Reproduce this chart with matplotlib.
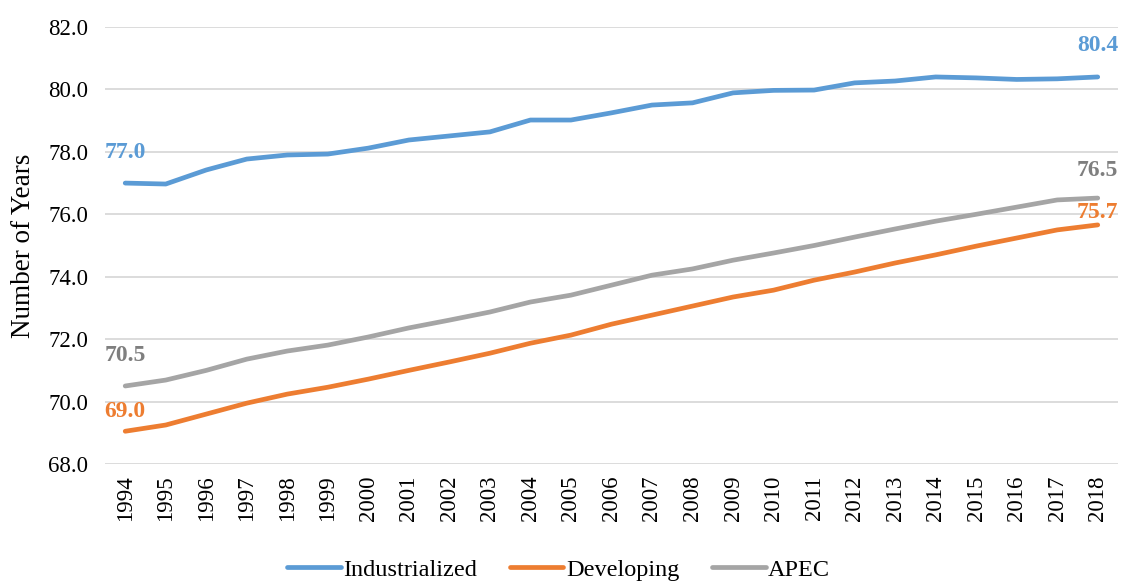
import matplotlib
matplotlib.use("Agg")
import matplotlib.pyplot as plt

plt.rcParams['font.family'] = ['Liberation Serif', 'DejaVu Serif']

years = [str(y) for y in range(1994, 2019)]

industrialized = [77.0, 76.97, 77.42, 77.77, 77.9, 77.93, 78.12, 78.38, 78.51, 78.64,
                  79.02, 79.02, 79.25, 79.5, 79.57, 79.89, 79.97, 79.98, 80.21, 80.27,
                  80.4, 80.37, 80.32, 80.34, 80.4]
developing = [69.05, 69.25, 69.6, 69.95, 70.24, 70.46, 70.72, 71.0, 71.27, 71.55,
              71.87, 72.13, 72.48, 72.77, 73.06, 73.35, 73.57, 73.89, 74.15, 74.44,
              74.7, 74.98, 75.24, 75.5, 75.66]
apec = [70.5, 70.69, 71.0, 71.36, 71.62, 71.81, 72.07, 72.36, 72.61, 72.87,
        73.19, 73.41, 73.73, 74.05, 74.25, 74.53, 74.76, 75.0, 75.27, 75.53,
        75.78, 76.0, 76.23, 76.46, 76.52]

series = [
    ("Industrialized", industrialized, "#5B9BD5", "#5B9BD5", 22, 23),
    ("Developing", developing, "#ED7D31", "#ED7D31", 14, 9),
    ("APEC", apec, "#A5A5A5", "#7F7F7F", 22, 20),
]

fig = plt.figure(figsize=(11.31, 5.82), dpi=100)
ax = fig.add_axes([0.0928, 0.2027, 0.8957, 0.7509])

x = list(range(len(years)))
for name, vals, col, lcol, off_start, off_end in series:
    ax.plot(x, vals, color=col, lw=3.4, label=name, solid_capstyle='round')
    # labels on first and last points
    ax.annotate(f"{vals[0]:.1f}", (x[0], vals[0]), xytext=(0, off_start),
                textcoords='offset points', ha='center', va='center',
                fontsize=17, fontweight='bold', color=lcol)
    ax.annotate(f"{vals[-1]:.1f}", (x[-1], vals[-1]), xytext=(0, off_end),
                textcoords='offset points', ha='center', va='center',
                fontsize=17, fontweight='bold', color=lcol)

yticks = [68, 70, 72, 74, 76, 78, 80, 82]
ax.set_xlim(-0.5, len(years) - 0.5)
ax.set_ylim(68, 82)
ax.set_yticks(yticks)
ax.set_yticklabels([f"{v:.1f}" for v in yticks])
ax.set_xticks(x)
ax.set_xticklabels(years, rotation=90)
ax.tick_params(axis='both', length=0, labelsize=16.5)
ax.tick_params(axis='y', pad=12)
ax.tick_params(axis='x', pad=8)
ax.grid(axis='y', color='#D9D9D9', lw=1.3)
ax.set_axisbelow(True)
for s in ax.spines.values():
    s.set_visible(False)

ax.set_ylabel("Number of Years", fontsize=19.5, labelpad=9)

fig.legend(loc='center', bbox_to_anchor=(0.494, 0.021), ncol=3, frameon=False,
           fontsize=17.5, handlelength=2.2, columnspacing=1.35, handletextpad=0.1)

fig.savefig("out.png", dpi=100)
